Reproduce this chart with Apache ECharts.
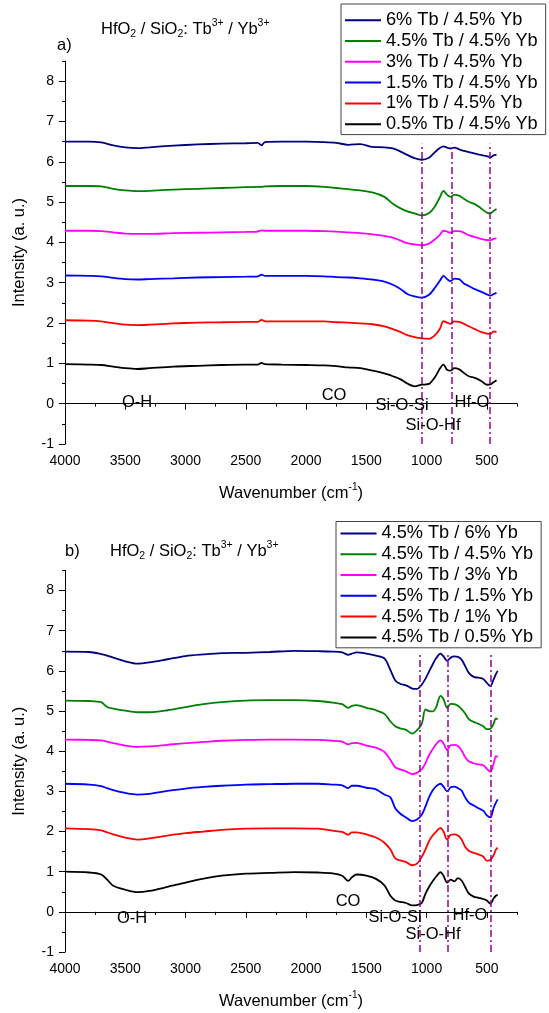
<!DOCTYPE html>
<html>
<head>
<meta charset="utf-8">
<script src="https://cdn.jsdelivr.net/npm/echarts@6/dist/echarts.min.js"></script>
<style>
html, body { margin: 0; padding: 0; background: #fff; }
#main { width: 549px; height: 1013px; }
</style>
</head>
<body>
<div id="main"></div>
<script>
// panel a) : Tb content varies, Yb fixed at 4.5%
const waveA = [4000, 3800, 3700, 3600, 3500, 3400, 3300, 3100, 2900, 2700, 2500, 2400, 2370, 2340, 2200, 2000, 1850, 1750, 1650, 1550, 1450, 1350, 1280, 1220, 1160, 1100, 1040, 980, 930, 890, 860, 830, 800, 770, 730, 690, 650, 600, 550, 500, 470, 445, 420];
const aTb60 = [6.50, 6.50, 6.48, 6.41, 6.36, 6.34, 6.36, 6.40, 6.43, 6.45, 6.46, 6.47, 6.41, 6.49, 6.50, 6.50, 6.49, 6.47, 6.42, 6.44, 6.37, 6.36, 6.33, 6.26, 6.17, 6.09, 6.05, 6.10, 6.24, 6.34, 6.38, 6.35, 6.33, 6.35, 6.31, 6.27, 6.24, 6.20, 6.17, 6.14, 6.11, 6.16, 6.18];
const aTb45 = [5.40, 5.40, 5.39, 5.33, 5.29, 5.27, 5.28, 5.31, 5.33, 5.35, 5.37, 5.38, 5.38, 5.39, 5.40, 5.40, 5.38, 5.35, 5.32, 5.29, 5.24, 5.13, 4.96, 4.85, 4.77, 4.72, 4.67, 4.73, 4.90, 5.12, 5.28, 5.18, 5.13, 5.18, 5.16, 5.08, 5.01, 4.95, 4.85, 4.74, 4.72, 4.78, 4.83];
const aTb30 = [4.29, 4.29, 4.28, 4.25, 4.22, 4.21, 4.21, 4.23, 4.24, 4.25, 4.26, 4.27, 4.30, 4.29, 4.29, 4.29, 4.28, 4.27, 4.25, 4.23, 4.20, 4.16, 4.12, 4.05, 3.98, 3.95, 3.93, 3.97, 4.08, 4.19, 4.29, 4.27, 4.24, 4.28, 4.28, 4.24, 4.18, 4.13, 4.09, 4.06, 4.05, 4.09, 4.10];
const aTb15 = [3.18, 3.17, 3.16, 3.12, 3.09, 3.08, 3.09, 3.11, 3.13, 3.14, 3.15, 3.16, 3.20, 3.17, 3.17, 3.17, 3.16, 3.14, 3.13, 3.11, 3.08, 3.03, 2.95, 2.85, 2.72, 2.66, 2.63, 2.70, 2.88, 3.05, 3.17, 3.09, 3.04, 3.10, 3.09, 2.98, 2.92, 2.84, 2.78, 2.71, 2.68, 2.72, 2.75];
const aTb10 = [2.07, 2.06, 2.04, 2.00, 1.96, 1.95, 1.96, 1.99, 2.01, 2.02, 2.03, 2.03, 2.08, 2.04, 2.04, 2.04, 2.04, 2.02, 2.01, 1.99, 1.97, 1.92, 1.85, 1.78, 1.70, 1.65, 1.62, 1.61, 1.70, 1.86, 2.05, 2.01, 1.98, 2.04, 2.03, 1.98, 1.92, 1.85, 1.78, 1.74, 1.73, 1.79, 1.78];
const aTb05 = [0.98, 0.97, 0.96, 0.92, 0.88, 0.86, 0.88, 0.92, 0.94, 0.96, 0.97, 0.97, 1.01, 0.98, 0.97, 0.96, 0.95, 0.93, 0.90, 0.88, 0.82, 0.75, 0.68, 0.61, 0.50, 0.43, 0.47, 0.49, 0.66, 0.87, 0.97, 0.84, 0.82, 0.88, 0.85, 0.76, 0.68, 0.64, 0.57, 0.47, 0.48, 0.53, 0.58];

// panel b) : Yb content varies, Tb fixed at 4.5%
const waveB = [4000, 3800, 3700, 3650, 3600, 3500, 3400, 3300, 3150, 3000, 2850, 2700, 2500, 2300, 2100, 1900, 1780, 1700, 1650, 1620, 1580, 1500, 1420, 1350, 1300, 1260, 1220, 1170, 1120, 1080, 1040, 1010, 980, 950, 920, 885, 860, 830, 800, 770, 740, 710, 680, 650, 610, 570, 530, 500, 470, 445, 425, 410];
const bYb60 = [6.48, 6.47, 6.42, 6.38, 6.33, 6.24, 6.18, 6.21, 6.29, 6.37, 6.41, 6.44, 6.45, 6.47, 6.50, 6.49, 6.48, 6.46, 6.40, 6.43, 6.46, 6.43, 6.38, 6.31, 6.02, 5.76, 5.68, 5.64, 5.56, 5.55, 5.66, 5.80, 5.98, 6.16, 6.32, 6.43, 6.36, 6.25, 6.33, 6.36, 6.35, 6.28, 6.12, 5.95, 5.85, 5.83, 5.80, 5.70, 5.62, 5.78, 5.92, 6.00];
const bYb45 = [5.26, 5.25, 5.22, 5.10, 5.06, 5.01, 4.97, 4.97, 5.02, 5.10, 5.17, 5.22, 5.26, 5.27, 5.27, 5.25, 5.21, 5.17, 5.08, 5.13, 5.15, 5.08, 5.02, 4.93, 4.74, 4.62, 4.57, 4.53, 4.44, 4.52, 4.68, 5.04, 5.00, 4.99, 5.10, 5.38, 5.30, 5.08, 5.18, 5.17, 5.13, 5.05, 4.94, 4.80, 4.73, 4.68, 4.62, 4.55, 4.56, 4.68, 4.82, 4.79];
const bYb30 = [4.29, 4.28, 4.27, 4.24, 4.20, 4.14, 4.11, 4.12, 4.16, 4.20, 4.23, 4.26, 4.28, 4.29, 4.29, 4.28, 4.26, 4.24, 4.17, 4.20, 4.21, 4.14, 4.09, 3.98, 3.78, 3.60, 3.55, 3.50, 3.43, 3.46, 3.55, 3.70, 3.90, 4.05, 4.18, 4.27, 4.20, 4.03, 4.15, 4.16, 4.13, 4.02, 3.85, 3.75, 3.70, 3.67, 3.65, 3.56, 3.49, 3.68, 3.88, 3.85];
const bYb15 = [3.19, 3.17, 3.13, 3.08, 3.03, 2.96, 2.92, 2.94, 3.01, 3.07, 3.11, 3.14, 3.17, 3.18, 3.19, 3.19, 3.17, 3.15, 3.08, 3.14, 3.14, 3.09, 3.05, 2.92, 2.85, 2.58, 2.45, 2.35, 2.26, 2.30, 2.42, 2.62, 2.85, 3.02, 3.13, 3.19, 3.12, 3.00, 3.10, 3.12, 3.08, 3.02, 2.85, 2.72, 2.65, 2.58, 2.52, 2.40, 2.35, 2.58, 2.72, 2.80];
const bYb10 = [2.08, 2.06, 2.03, 1.98, 1.93, 1.85, 1.80, 1.83, 1.90, 1.96, 2.00, 2.04, 2.07, 2.08, 2.08, 2.07, 2.02, 1.99, 1.92, 1.98, 1.98, 1.93, 1.85, 1.72, 1.55, 1.33, 1.28, 1.24, 1.16, 1.20, 1.37, 1.55, 1.76, 1.90, 2.00, 2.09, 2.00, 1.80, 1.92, 1.93, 1.90, 1.80, 1.62, 1.52, 1.47, 1.43, 1.38, 1.27, 1.30, 1.40, 1.55, 1.60];
const bYb05 = [1.00, 0.98, 0.93, 0.80, 0.65, 0.55, 0.49, 0.52, 0.62, 0.73, 0.83, 0.90, 0.95, 0.97, 0.99, 0.98, 0.96, 0.90, 0.77, 0.86, 0.93, 0.90, 0.82, 0.66, 0.40, 0.28, 0.25, 0.22, 0.16, 0.17, 0.22, 0.45, 0.62, 0.76, 0.88, 0.99, 0.90, 0.73, 0.80, 0.76, 0.84, 0.78, 0.62, 0.46, 0.38, 0.35, 0.32, 0.28, 0.20, 0.33, 0.40, 0.42];

const namesA = ['6% Tb / 4.5% Yb', '4.5% Tb / 4.5% Yb', '3% Tb / 4.5% Yb', '1.5% Tb / 4.5% Yb', '1% Tb / 4.5% Yb', '0.5% Tb / 4.5% Yb'];
const namesB = ['4.5% Tb / 6% Yb', '4.5% Tb / 4.5% Yb', '4.5% Tb / 3% Yb', '4.5% Tb / 1.5% Yb', '4.5% Tb / 1% Yb', '4.5% Tb / 0.5% Yb'];
const colors = ['#000080', '#008000', '#ff00ff', '#0000ff', '#ff0000', '#000000'];

const xMajor = [4000, 3500, 3000, 2500, 2000, 1500, 1000, 500];
const xMinor = [3750, 3250, 2750, 2250, 1750, 1250, 750, 250];
const yMajor = [-1, 0, 1, 2, 3, 4, 5, 6, 7, 8];
const yMinor = [-0.5, 0.5, 1.5, 2.5, 3.5, 4.5, 5.5, 6.5, 7.5, 8.5];

// band positions (dash-dot markers) and their upper end
const bandsA = [1038, 795, 477];
const bandsB = [1056, 827, 466];
const bandTop = 6.45;

// band assignments: [text, wavenumber, intensity]
const notesA = [['O-H', 3405, 0.05], ['CO', 1767, 0.21], ['Si-O-Si', 1204, -0.04], ['Si-O-Hf', 951, -0.53], ['Hf-O', 625, 0.03]];
const notesB = [['O-H', 3446, -0.16], ['CO', 1650, 0.28], ['Si-O-Si', 1261, -0.12], ['Si-O-Hf', 943, -0.56], ['Hf-O', 640, -0.08]];

const FONT = 'Liberation Sans, Arial, sans-serif';
const seriesA = [aTb60, aTb45, aTb30, aTb15, aTb10, aTb05];
const seriesB = [bYb60, bYb45, bYb30, bYb15, bYb10, bYb05];

const grids = [
  { left: 65, top: 61, width: 452, height: 383 },
  { left: 65, top: 570.5, width: 452, height: 382 }
];

function mainX(gi) {
  return {
    type: 'value', gridIndex: gi, min: 250, max: 4000, inverse: true, position: 'bottom',
    name: 'Wavenumber (cm{sup|-1})', nameLocation: 'middle', nameGap: 38,
    nameTextStyle: { fontSize: 16.5, fontFamily: FONT, color: '#000', lineHeight: 22,
      rich: { sup: { fontSize: 10, fontFamily: FONT, color: '#000', verticalAlign: 'top', lineHeight: 10 } } },
    axisLine: { lineStyle: { color: '#000', width: 1 } },
    axisTick: { customValues: xMajor, length: 6, lineStyle: { color: '#000' } },
    axisLabel: { customValues: xMajor, formatter: v => String(v), fontSize: 14, fontFamily: FONT, color: '#000', margin: 10 },
    splitLine: { show: false }
  };
}
function minorX(gi) {
  return {
    type: 'value', gridIndex: gi, min: 250, max: 4000, inverse: true, position: 'bottom',
    axisLine: { show: false },
    axisTick: { customValues: xMinor, length: 3, lineStyle: { color: '#000' } },
    axisLabel: { show: false }, splitLine: { show: false }
  };
}
function mainY(gi) {
  return {
    type: 'value', gridIndex: gi, min: -1, max: 8.5, position: 'left',
    name: 'Intensity (a. u.)', nameLocation: 'middle', nameGap: 37,
    nameTextStyle: { fontSize: 16.5, fontFamily: FONT, color: '#000' },
    axisLine: { show: true, lineStyle: { color: '#000', width: 1 } },
    axisTick: { show: true, customValues: yMajor, length: 6, lineStyle: { color: '#000' } },
    axisLabel: { customValues: yMajor, fontSize: 14, fontFamily: FONT, color: '#000', margin: 11 },
    splitLine: { show: false }
  };
}
function minorY(gi) {
  return {
    type: 'value', gridIndex: gi, min: -1, max: 8.5, position: 'left',
    axisLine: { show: false },
    axisTick: { show: true, customValues: yMinor, length: 3, lineStyle: { color: '#000' } },
    axisLabel: { show: false }, splitLine: { show: false }
  };
}

function spectra(names, wave, rows, gi) {
  return rows.map((vals, i) => ({
    type: 'line', name: names[i], xAxisIndex: gi, yAxisIndex: gi,
    data: wave.map((w, k) => [w, vals[k]]),
    showSymbol: false, smooth: 0.3, color: colors[i],
    lineStyle: { width: 1.8, color: colors[i] }, z: 3
  }));
}

// dash-dot band markers
function bands(list, gi) {
  return {
    type: 'scatter', xAxisIndex: gi, yAxisIndex: gi, symbolSize: 0, silent: true, data: [],
    markLine: {
      silent: true, symbol: ['none', 'none'], label: { show: false },
      lineStyle: { color: '#990099', width: 1.5, type: [7, 3, 2, 3] },
      data: list.map(b => [{ coord: [b, -1] }, { coord: [b, bandTop] }])
    }
  };
}

// band assignment texts, placed through the axes
function notes(list, gi) {
  return {
    type: 'custom', xAxisIndex: gi, yAxisIndex: gi, silent: true, z: 5,
    data: list.map(n => [n[1], n[2]]),
    renderItem: (params, api) => {
      const p = api.coord([api.value(0), api.value(1)]);
      return {
        type: 'text', x: Math.round(p[0]), y: Math.round(p[1]),
        style: { text: list[params.dataIndex][0], fill: '#000', opacity: 1, font: '16.5px ' + FONT, align: 'center', verticalAlign: 'middle' }
      };
    }
  };
}

function legend(names, left, top, padding) {
  return {
    data: names, orient: 'vertical', left: left, top: top, selectedMode: false,
    icon: 'rect', itemWidth: 36, itemHeight: 2, itemGap: 0, padding: padding,
    borderColor: '#444', borderWidth: 1, backgroundColor: '#fff',
    textStyle: { fontSize: 18.2, fontFamily: FONT, color: '#000', lineHeight: 20.8 }
  };
}

const titleRich = {
  sub: { fontSize: 10.5, fontFamily: FONT, fill: '#000', verticalAlign: 'bottom', lineHeight: 10 },
  sup: { fontSize: 10.5, fontFamily: FONT, fill: '#000', verticalAlign: 'top', lineHeight: 10 }
};
const titleText = 'HfO{sub|2} / SiO{sub|2}: Tb{sup|3+} / Yb{sup|3+}';

const chart = echarts.init(document.getElementById('main'), null, { renderer: 'canvas' });
chart.setOption({
  animation: false,
  backgroundColor: '#fff',
  grid: grids,
  xAxis: [mainX(0), mainX(1), minorX(0), minorX(1)],
  yAxis: [mainY(0), mainY(1), minorY(0), minorY(1)],
  legend: [
    legend(namesA, 341, 4, [5.8, 8, 0, 4]),
    legend(namesB, 336, 521.5, [1.5, 8, 0, 4.5])
  ],
  graphic: [
    { type: 'text', x: 57, y: 45, style: { text: 'a)', font: '16.5px ' + FONT, fill: '#000', verticalAlign: 'middle' } },
    { type: 'text', x: 101, y: 29, style: { text: titleText, rich: titleRich, fontSize: 16.5, fontFamily: FONT, lineHeight: 22, fill: '#000', verticalAlign: 'middle' } },
    { type: 'text', x: 65, y: 551, style: { text: 'b)', font: '16.5px ' + FONT, fill: '#000', verticalAlign: 'middle' } },
    { type: 'text', x: 110, y: 551, style: { text: titleText, rich: titleRich, fontSize: 16.5, fontFamily: FONT, lineHeight: 22, fill: '#000', verticalAlign: 'middle' } }
  ],
  series: [
    ...spectra(namesA, waveA, seriesA, 0),
    ...spectra(namesB, waveB, seriesB, 1),
    bands(bandsA, 0),
    bands(bandsB, 1),
    notes(notesA, 0),
    notes(notesB, 1)
  ]
});
</script>
</body>
</html>
